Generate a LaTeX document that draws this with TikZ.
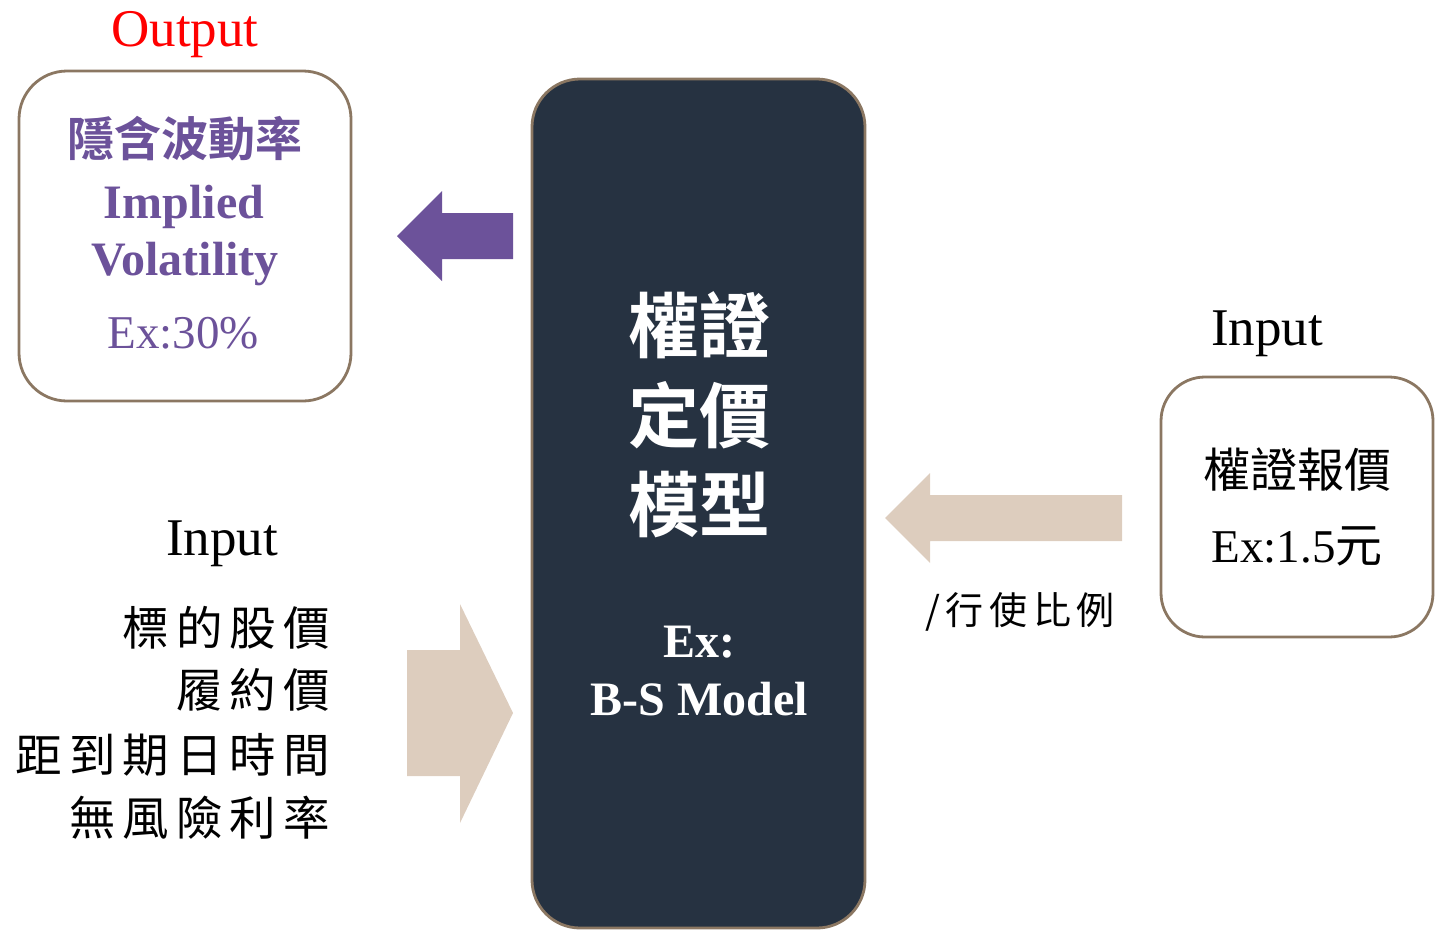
\documentclass[tikz,border=0pt]{standalone}
\usepackage{fontspec}
\setmainfont{Liberation Serif}
\newfontfamily\cjk[BoldFont={Noto Sans CJK TC Bold}]{Noto Sans CJK TC}
\newfontfamily\cjkwide[LetterSpace=15]{Noto Sans CJK TC}
\usetikzlibrary{positioning}
\definecolor{boxline}{RGB}{139,119,98}
\definecolor{navy}{RGB}{38,50,65}
\definecolor{violet}{RGB}{108,82,154}
\definecolor{beige}{RGB}{221,205,190}

\begin{document}
\begin{tikzpicture}[x=1pt, y=-1pt,
  roundbox/.style = {draw=boxline, line width=2.8pt, rounded corners=48pt},
  txt/.style = {inner sep=0pt, font=\fontsize{47}{56}\selectfont},
  cjktxt/.style = {inner sep=0pt, font=\fontsize{47}{56}\selectfont\cjk},
  ]
  \useasboundingbox (0,0) rectangle (1438,930);
  % boxes
  \draw[roundbox] (19,71) rectangle (351,401);
  \draw[roundbox, fill=navy] (532,79) rectangle (865,928);
  \draw[roundbox, rounded corners=44pt] (1161,377) rectangle (1433,637);
  %
  \node[txt, anchor=base, red, font=\fontsize{53}{60}\selectfont] (out) at (185,46) {Output};
  \node[cjktxt, violet, font=\fontsize{47}{56}\selectfont\cjk\bfseries] (iv) at (185,139) {隱含波動率};
  \node[txt, anchor=base, violet, font=\fontsize{48}{56}\selectfont\bfseries] (impl) at (184,218) {Implied};
  \node[txt, anchor=base, violet, font=\fontsize{48}{56}\selectfont\bfseries] (vol) at (185,275) {Volatility};
  \node[txt, anchor=base, violet, font=\fontsize{47}{56}\selectfont] (ivex) at (183,348) {Ex:30\%};
  %
  \node[cjktxt, white, font=\fontsize{71}{90}\selectfont\cjk\bfseries] (m1) at (699,325) {權證};
  \node[cjktxt, white, font=\fontsize{71}{90}\selectfont\cjk\bfseries] (m2) at (699,415) {定價};
  \node[cjktxt, white, font=\fontsize{71}{90}\selectfont\cjk\bfseries] (m3) at (699,505) {模型};
  \node[txt, anchor=base, white, font=\fontsize{48}{56}\selectfont\bfseries] (bs1) at (699,657) {Ex:};
  \node[txt, anchor=base, white, font=\fontsize{48}{56}\selectfont\bfseries] (bs2) at (699,715) {B-S Model};
  %
  \node[txt, anchor=base, font=\fontsize{53}{60}\selectfont] (inR) at (1267,345) {Input};
  \node[cjktxt] (quote) at (1297,470) {權證報價};
  \node[txt, anchor=base] (quoteex) at (1297,562) {Ex:1.5{\cjk 元}};
  \node[inner sep=0pt, font=\fontsize{38}{44}\selectfont\cjkwide] (ratio) at (1020,612) {/行使比例};
  %
  \node[txt, anchor=base, font=\fontsize{53}{60}\selectfont] (inL) at (222,555) {Input};
  \foreach \t/\y/\n in {標的股價/628/p1, 履約價/690/p2, 距到期日時間/755/p3, 無風險利率/818/p4}
    \node[inner sep=0pt, anchor=east, font=\fontsize{46.5}{54}\selectfont\cjkwide] (\n) at (330,\y) {\t};
  % arrows
  \fill[violet] (513,213) -- (442,213) -- (442,191) -- (397,236)
    -- (442,281) -- (442,259) -- (513,259) -- cycle;
  \fill[beige] (1122,495) -- (930,495) -- (930,473) -- (885,518)
    -- (930,563) -- (930,541) -- (1122,541) -- cycle;
  \fill[beige] (407,650) -- (460,650) -- (460,604) -- (513,713)
    -- (460,823) -- (460,776) -- (407,776) -- cycle;
\end{tikzpicture}
\end{document}
